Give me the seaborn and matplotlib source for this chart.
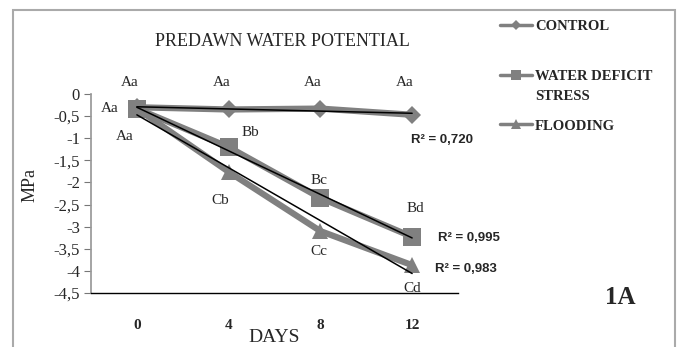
import numpy as np
import pandas as pd
import matplotlib
matplotlib.use("Agg")
import matplotlib.pyplot as plt
from matplotlib.lines import Line2D
from matplotlib.patches import Rectangle
import seaborn as sns

# ---- data ----
days = [0, 4, 8, 12]
day_labels = ["0", "4", "8", "12"]
control = [-0.30, -0.35, -0.33, -0.47]
water_deficit = [-0.33, -1.20, -2.35, -3.23]
flooding = [-0.33, -1.76, -3.10, -3.87]
series_names = ["CONTROL", "WATER DEFICIT", "FLOODING"]
r2_labels = ["R² = 0,720", "R² = 0,995", "R² = 0,983"]
yticks = [0, -0.5, -1, -1.5, -2, -2.5, -3, -3.5, -4, -4.5]
ytick_labels = ["0", "-0,5", "-1", "-1,5", "-2", "-2,5", "-3", "-3,5", "-4", "-4,5"]
letters_control = ["Aa", "Aa", "Aa", "Aa"]
letters_wd = ["Aa", "Bb", "Bc", "Bd"]
letters_fl = ["Aa", "Cb", "Cc", "Cd"]

sns.set_theme(style="white")
plt.rcParams["font.family"] = ["Liberation Serif", "DejaVu Sans"]

GRAY = "#808080"
fig = plt.figure(figsize=(6.8, 3.47), dpi=100)
ax = fig.add_axes([91 / 680, 1 - 293 / 347, (458 - 91) / 680, (293 - 94) / 347])

idx = list(range(len(days)))
df = pd.DataFrame({
    "idx": idx * 3,
    "value": control + water_deficit + flooding,
    "series": sum([[s] * len(days) for s in series_names], []),
})

markers = {"CONTROL": "D", "WATER DEFICIT": "s", "FLOODING": "^"}
msizes = {"CONTROL": 9, "WATER DEFICIT": 13, "FLOODING": 12}
for s in series_names:
    sub = df[df["series"] == s]
    sns.lineplot(data=sub, x="idx", y="value", ax=ax, color=GRAY, linewidth=4.5,
                 marker=markers[s], markersize=msizes[s], markeredgewidth=0,
                 legend=False, zorder=2)

# linear trend lines
for vals in (control, water_deficit, flooding):
    k, b = np.polyfit(days, vals, 1)
    fit = [k * d + b for d in days]
    ax.plot([idx[0], idx[-1]], [fit[0], fit[-1]], color="black", lw=1.1, zorder=3)

ax.set_xlim(-0.5, 3.5)
ax.set_ylim(-4.5, 0)
ax.set_yticks(yticks)
ax.set_yticklabels(ytick_labels, fontsize=12)
ax.set_xticks(idx)
ax.set_xticklabels(day_labels, fontsize=11, fontweight="bold")
ax.tick_params(axis="x", length=0, pad=19)
ax.tick_params(axis="y", direction="out", length=5, width=0.8, color="#777777", pad=3, left=True)
for sp in ("top", "right"):
    ax.spines[sp].set_visible(False)
ax.spines["left"].set_color("#999999")
ax.spines["bottom"].set_color("black")
ax.spines["bottom"].set_linewidth(1.0)
ax.set_xlabel("")
ax.set_ylabel("")

# letters
ann_kw = dict(fontsize=11, ha="center", va="center", zorder=5, clip_on=False)
for i, t in enumerate(letters_control):
    ax.text(i - 0.08, 0.26, t, **ann_kw)
ax.text(-0.30, -0.33, letters_wd[0], **ann_kw)
ax.text(-0.13, -0.95, letters_fl[0], **ann_kw)
ax.text(1.24, -0.88, letters_wd[1], **ann_kw)
ax.text(0.91, -2.40, letters_fl[1], **ann_kw)
ax.text(1.98, -1.95, letters_wd[2], **ann_kw)
ax.text(1.98, -3.57, letters_fl[2], **ann_kw)
ax.text(3.03, -2.58, letters_wd[3], **ann_kw)
ax.text(3.00, -4.39, letters_fl[3], **ann_kw)

r2_kw = dict(fontsize=9.5, fontweight="bold", ha="left", va="center",
             family=["Liberation Sans", "DejaVu Sans"], clip_on=False, zorder=5)
ax.text(2.99, -1.04, r2_labels[0], **r2_kw)
ax.text(3.28, -3.26, r2_labels[1], **r2_kw)
ax.text(3.25, -3.96, r2_labels[2], **r2_kw)

# titles / labels
fig.text(282 / 680, 1 - 41 / 347, "PREDAWN WATER POTENTIAL", fontsize=13,
         ha="center", va="center")
fig.text(274 / 680, 1 - 337 / 347, "DAYS", fontsize=14, ha="center", va="center")
fig.text(30 / 680, 1 - 185 / 347, "MPa", fontsize=13, rotation=90,
         ha="center", va="center")
fig.text(620 / 680, 1 - 297 / 347, "1A", fontsize=18, fontweight="bold",
         ha="center", va="center")

# legend
handles = [
    Line2D([], [], color=GRAY, lw=2.5, marker="D", markersize=5, markeredgewidth=0),
    Line2D([], [], color=GRAY, lw=2.5, marker="s", markersize=7, markeredgewidth=0),
    Line2D([], [], color=GRAY, lw=2.5, marker="^", markersize=7, markeredgewidth=0),
]
fig.legend(handles, series_names, loc="upper left",
           bbox_to_anchor=(500 / 680, 1 - 20 / 347), frameon=False,
           prop={"weight": "bold", "size": 10.5}, handlelength=2.2,
           handletextpad=0.2, labelspacing=2.5, borderpad=0, borderaxespad=0)
fig.text(535 / 680, 1 - 97 / 347, "STRESS", fontsize=10.5, fontweight="bold",
         ha="left", va="center")

# outer frame
fig.add_artist(Rectangle((13 / 680, -0.01), (675 - 13) / 680, 1 - 10 / 347 + 0.01,
                         transform=fig.transFigure, fill=False,
                         edgecolor="#aaaaaa", lw=1.5))

fig.savefig("out.png", dpi=100)
